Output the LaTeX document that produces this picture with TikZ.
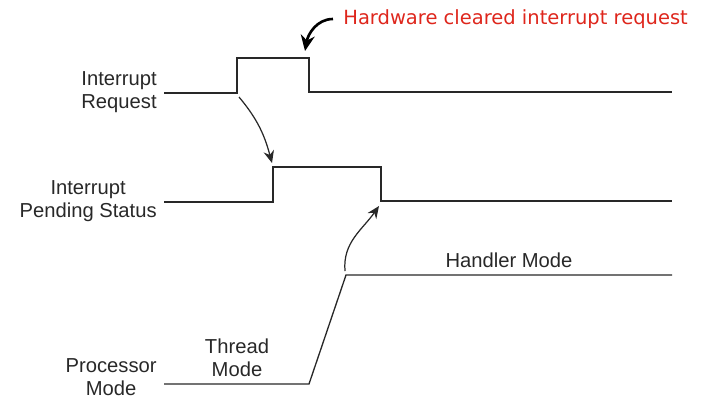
\documentclass[tikz,border=0pt]{standalone}
\usepackage{fontspec}
\setmainfont{Liberation Sans}
\newfontfamily\notefont{DejaVu Sans}
\usetikzlibrary{arrows.meta}

\definecolor{notered}{RGB}{222,38,28}
\definecolor{wave}{RGB}{40,40,40}

\tikzset{
  sigthick/.style={draw=wave, line width=1.1pt},
  sigthin/.style={draw=wave, line width=0.75pt},
  siglabel/.style={align=center, font=\fontsize{11.5}{13}\selectfont, text=wave, inner sep=0pt},
  causes/.style={draw=wave, line width=0.7pt, -{Stealth[length=7pt,width=6pt]}},
}

\begin{document}
\begin{tikzpicture}[x=0.02cm, y=-0.02cm]
  \useasboundingbox (0,0) rectangle (703,397);

  % Interrupt request: pulse, cleared by hardware
  \draw[sigthick] (164,93) -- (237,93) coordinate (irq rise)
    -- (237,58) -- (309,58) coordinate (irq fall) -- (309,92) -- (672,92);

  % Pending status: set after request, cleared on entry
  \draw[sigthin] (164,202) -- (273,202) -- (273,167) coordinate (pend set)
    -- (381,167) -- (381,201) coordinate (pend clear) -- (672,201);

  % Processor mode: thread -> handler
  \draw[sigthin] (164,384) -- (309,384) -- (346,275) coordinate (mode switch) -- (672,275);

  % Signal names
  \node[siglabel, anchor=east] (irq label) at (157,92) {Interrupt\\Request};
  \node[siglabel, anchor=east] (pend label) at (157,201) {Interrupt\\Pending Status};
  \node[siglabel, anchor=east] (mode label) at (157,377) {Processor\\Mode};
  \node[siglabel] (thread label) at (237,358) {Thread\\Mode};
  \node[siglabel] (handler label) at (509,260) {Handler Mode};

  % Cause and effect
  \coordinate (irq from) at (239,97);
  \coordinate (pend to) at (272,163);
  \draw[causes] (irq from) to[out=-50, in=105] (pend to);
  \coordinate (mode from) at (345,271);
  \coordinate (clear to) at (379,206);
  \draw[causes] (mode from) to[out=95, in=-125] (clear to);

  % Note on the request pulse
  \node[anchor=west, inner sep=0pt, text=notered, font=\notefont\fontsize{11.1}{13}\selectfont]
    (hw note) at (343,19) {Hardware cleared interrupt request};
  \coordinate (note from) at (333,19);
  \coordinate (note to) at (305,51);
  \draw[line width=1.5pt, -{Stealth[length=9pt,width=8pt]}]
    (note from) to[out=180, in=80] (note to);
\end{tikzpicture}
\end{document}
